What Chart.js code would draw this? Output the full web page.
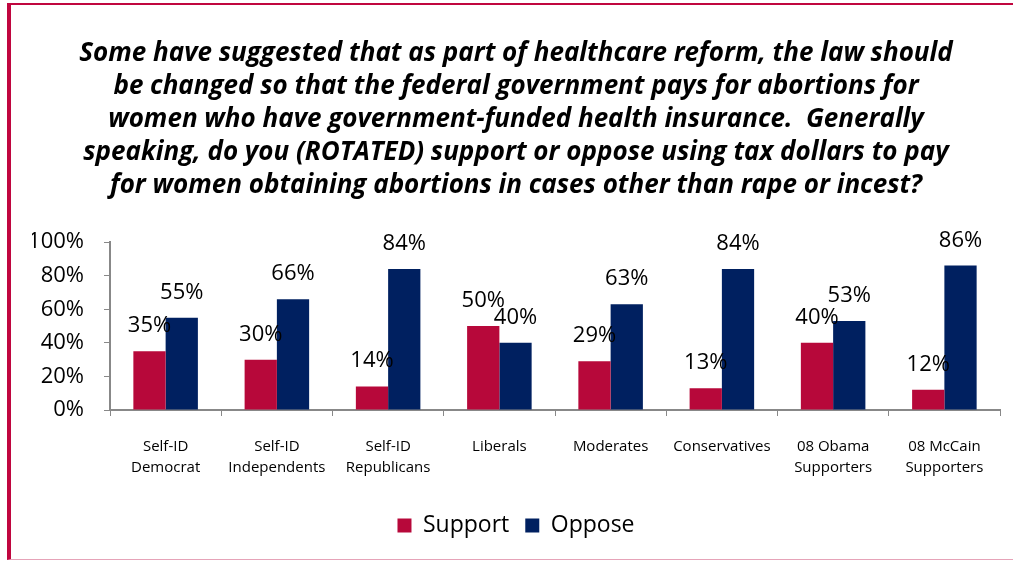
<!DOCTYPE html>
<html>
<head>
<meta charset="utf-8">
<script src="https://cdn.jsdelivr.net/npm/chart.js@4/dist/chart.umd.min.js"></script>
<style>
    html, body { margin: 0; padding: 0; background: #fff; }
    #wrap { position: relative; width: 1013px; height: 561px; }
    #frame {
        position: absolute; left: 7px; top: 3px; width: 1006px; height: 557px;
        border-left: 4px solid #C0063F; border-top: 2px solid #C0063F;
        border-bottom: 1px solid #E6A3B8; box-sizing: border-box; pointer-events: none;
    }
    canvas { position: absolute; left: 0; top: 0; }
</style>
</head>
<body>
<div id="wrap">
    <canvas id="chart" width="1013" height="561"></canvas>
    <div id="frame"></div>
</div>
<script>
// categories and series
const groups = [
    ['Self-ID', 'Democrat'],
    ['Self-ID', 'Independents'],
    ['Self-ID', 'Republicans'],
    'Liberals',
    'Moderates',
    'Conservatives',
    ['08 Obama', 'Supporters'],
    ['08 McCain', 'Supporters']
];
const support = [35, 30, 14, 50, 29, 13, 40, 12];
const oppose = [55, 66, 84, 40, 63, 84, 53, 86];
const yTicks = [0, 20, 40, 60, 80, 100];

const titleLines = [
    'Some have suggested that as part of healthcare reform, the law should',
    'be changed so that the federal government pays for abortions for',
    'women who have government-funded health insurance.  Generally',
    'speaking, do you (ROTATED) support or oppose using tax dollars to pay',
    'for women obtaining abortions in cases other than rape or incest?'
];

const FONT = '"Open Sans", Lato, sans-serif';

// value labels above each bar
const barLabels = {
    id: 'barLabels',
    afterDatasetsDraw(chart) {
        const ctx = chart.ctx;
        ctx.save();
        ctx.font = '22px ' + FONT;
        ctx.fillStyle = '#000';
        ctx.textAlign = 'center';
        ctx.textBaseline = 'alphabetic';
        chart.data.datasets.forEach((ds, i) => {
            chart.getDatasetMeta(i).data.forEach((bar, j) => {
                ctx.fillText(ds.data[j] + '%', bar.x, bar.y - 19);
            });
        });
        ctx.restore();
    }
};

new Chart(document.getElementById('chart'), {
    type: 'bar',
    data: {
        labels: groups,
        datasets: [
            {
                label: 'Support',
                data: support,
                backgroundColor: '#B7083A',
                categoryPercentage: 0.58,
                barPercentage: 1.0
            },
            {
                label: 'Oppose',
                data: oppose,
                backgroundColor: '#002060',
                categoryPercentage: 0.58,
                barPercentage: 1.0
            }
        ]
    },
    options: {
        responsive: false,
        animation: false,
        layout: { padding: { top: 21, right: 13, bottom: 14, left: 32 } },
        plugins: {
            title: {
                display: true,
                text: titleLines,
                color: '#000',
                font: { family: FONT, size: 26, weight: 'bold', style: 'italic', lineHeight: 1.27 },
                padding: { top: 16, bottom: 40 }
            },
            legend: {
                position: 'bottom',
                labels: {
                    color: '#000',
                    font: { family: FONT, size: 23 },
                    boxWidth: 14,
                    boxHeight: 14,
                    padding: 16
                }
            },
            tooltip: { enabled: false }
        },
        scales: {
            y: {
                min: 0,
                max: 100,
                afterBuildTicks(scale) {
                    scale.ticks = yTicks.map(v => ({ value: v }));
                },
                afterFit(scale) {
                    scale.width = 78;
                },
                ticks: {
                    color: '#000',
                    font: { family: FONT, size: 22 },
                    padding: 20,
                    callback: v => v + '%'
                },
                grid: { drawOnChartArea: false, drawTicks: true, tickLength: 6, color: '#888' },
                border: { color: '#888', width: 2 }
            },
            x: {
                ticks: {
                    color: '#000',
                    font: { family: FONT, size: 15, lineHeight: 1.4 },
                    padding: 20,
                    maxRotation: 0,
                    autoSkip: false
                },
                grid: { offset: true, drawOnChartArea: false, drawTicks: true, tickLength: 6, color: '#888' },
                border: { color: '#888', width: 2 }
            }
        }
    },
    plugins: [barLabels]
});
</script>
</body>
</html>
